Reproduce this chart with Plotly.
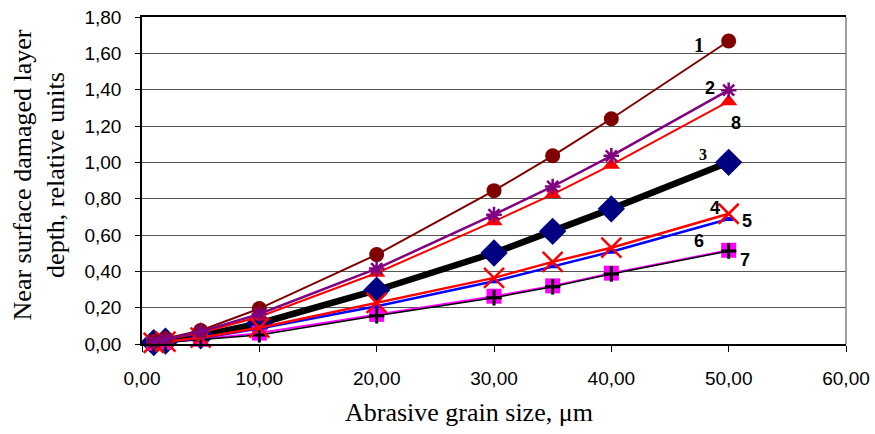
import plotly.graph_objects as go

grain = [1, 2, 5, 10, 20, 30, 35, 40, 50]

s1 = [0.015, 0.03, 0.074, 0.195, 0.492, 0.844, 1.036, 1.240, 1.668]
s2 = [0.012, 0.027, 0.068, 0.165, 0.415, 0.712, 0.867, 1.036, 1.397]
s8 = [0.011, 0.025, 0.062, 0.150, 0.391, 0.675, 0.824, 0.986, 1.335]
s3 = [0.008, 0.016, 0.045, 0.113, 0.296, 0.501, 0.620, 0.744, 1.000]
s4 = [0.006, 0.013, 0.035, 0.090, 0.226, 0.364, 0.452, 0.530, 0.717]
s5 = [0.006, 0.012, 0.032, 0.085, 0.208, 0.345, 0.428, 0.508, 0.688]
s6 = [0.004, 0.009, 0.024, 0.050, 0.155, 0.255, 0.315, 0.385, 0.512]
s7 = [0.005, 0.010, 0.026, 0.060, 0.163, 0.263, 0.320, 0.390, 0.516]

x_ticks = [0, 10, 20, 30, 40, 50, 60]
y_ticks = [0, 0.2, 0.4, 0.6, 0.8, 1.0, 1.2, 1.4, 1.6, 1.8]

SANS = "Arial, Liberation Sans, sans-serif"
SERIF = "Times New Roman, Liberation Serif, serif"

fig = go.Figure()

def add(y, lcolor, lwidth, symbol, msize, mcolor, mline_w=0, mline_c=None, name=""):
    fig.add_trace(go.Scatter(
        x=grain, y=y, mode="lines+markers", name=name,
        line=dict(color=lcolor, width=lwidth),
        marker=dict(symbol=symbol, size=msize, color=mcolor,
                    line=dict(width=mline_w, color=mline_c or mcolor)),
        showlegend=False, hoverinfo="x+y", cliponaxis=False))

add(s3, "#000000", 6.5, "diamond", 21, "#000080", name="3")
add(s7, "#FF00FF", 2, "square", 15, "#FF00FF", name="7")
add(s6, "#000000", 1.5, "cross-thin-open", 11, "#000000", 3, "#000000", name="6")
add(s5, "#0000FF", 2.5, "line-ew-open", 7, "#0000FF", 4, "#0000FF", name="5")
add(s4, "#FF0000", 2.5, "x-thin-open", 20, "#FF0000", 2.5, "#FF0000", name="4")
add(s8, "#FF0000", 2, "triangle-up", 15, "#FF0000", name="8")
add(s1, "#800000", 2, "circle", 15, "#800000", name="1")
add(s2, "#800080", 2.5, "asterisk-open", 13, "#800080", 2.5, "#800080", name="2")

labels = [
    ("1", 47.46, 1.646, SERIF, 20),
    ("2", 48.4, 1.408, SANS, 18),
    ("8", 50.62, 1.216, SANS, 18),
    ("3", 47.78, 1.045, SERIF, 16),
    ("4", 48.83, 0.749, SANS, 18),
    ("5", 51.53, 0.679, SANS, 18),
    ("6", 47.49, 0.569, SANS, 18),
    ("7", 51.39, 0.464, SANS, 18),
]
for t, x, y, fam, sz in labels:
    fig.add_annotation(x=x, y=y, xref="x", yref="y", text="<b>%s</b>" % t,
                       showarrow=False, font=dict(family=fam, size=sz, color="#000000"),
                       xanchor="center", yanchor="middle")

fig.add_annotation(x=0.4645, y=-0.208, xref="paper", yref="paper",
                   text="Abrasive grain size, \u03bcm", showarrow=False,
                   font=dict(family=SERIF, size=26, color="#000000"),
                   xanchor="center", yanchor="middle")
fig.add_annotation(x=-0.1456, y=0.517, xref="paper", yref="paper",
                   text="Near surface damaged layer<br>depth, relative units",
                   showarrow=False, textangle=-90,
                   font=dict(family=SERIF, size=26, color="#000000"),
                   xanchor="center", yanchor="middle")

fig.add_shape(type="line", xref="paper", yref="paper", x0=1, x1=1, y0=0, y1=1,
              line=dict(color="#808080", width=1.5))

fig.update_layout(
    width=875, height=434,
    margin=dict(l=142, r=29, t=17, b=90, autoexpand=False),
    paper_bgcolor="#FFFFFF", plot_bgcolor="#FFFFFF",
    separators=",.",
    font=dict(family=SANS, size=19, color="#000000"),
    xaxis=dict(range=[0, 60], tickvals=x_ticks, tickformat=".2f",
               showgrid=False, zeroline=False, automargin=False,
               showline=True, linecolor="#000000", linewidth=1.5, mirror=True,
               ticks="outside", ticklen=6, tickcolor="#000000", tickwidth=1,
               tickfont=dict(family=SANS, size=19), ticklabelstandoff=10),
    yaxis=dict(range=[0, 1.8], tickvals=y_ticks, tickformat=".2f",
               showgrid=True, gridcolor="#555555", gridwidth=1, zeroline=False,
               automargin=False,
               showline=True, linecolor="#000000", linewidth=1.5,
               ticks="outside", ticklen=5, tickcolor="#000000", tickwidth=1,
               tickfont=dict(family=SANS, size=19), ticklabelstandoff=10),
)

fig.write_html("out.html", config={"displayModeBar": False},
               post_script="document.body.style.margin='0';document.body.style.overflow='hidden';")
